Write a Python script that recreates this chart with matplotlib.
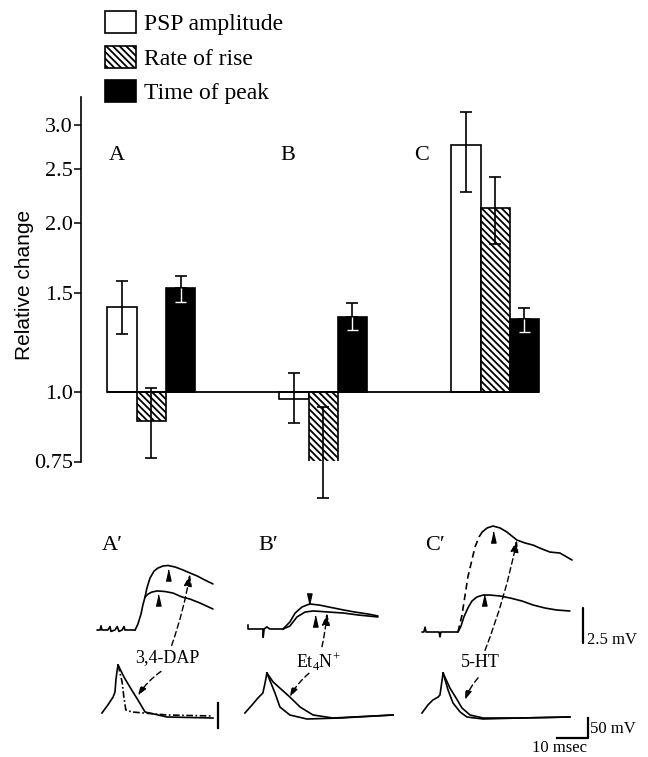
import numpy as np
import matplotlib
matplotlib.use("Agg")
import matplotlib.pyplot as plt

plt.rcParams['font.family'] = ['Liberation Serif', 'DejaVu Serif']
plt.rcParams['mathtext.fontset'] = 'custom'
plt.rcParams['mathtext.rm'] = 'Liberation Serif'
plt.rcParams['hatch.linewidth'] = 1.3

# ---- bar chart data (relative change, log axis) ----
groups = ['A', 'B', 'C']
psp = [1.42, 0.972, 2.76]
psp_lo = [1.27, 0.878, 2.28]
psp_hi = [1.58, 1.078, 3.16]
rise = [0.888, 0.742, 2.13]
rise_lo = [0.76, 0.646, 1.84]
rise_hi = [1.014, 0.94, 2.42]
peak = [1.53, 1.36, 1.35]
peak_lo = [1.45, 1.29, 1.28]
peak_hi = [1.61, 1.44, 1.41]
yticks = [0.75, 1.0, 1.5, 2.0, 2.5, 3.0]
ytick_labels = ['0.75', '1.0', '1.5', '2.0', '2.5', '3.0']

# ---- recordings: time (msec) and voltage (mV) from each panel's start ----
# A' 3,4-DAP
a_base_t = [0, 1.0, 1.3, 1.6, 3.5, 4.2, 4.5, 5.8, 6.5, 7.1, 8.1, 8.7, 9.0, 12.3]
a_base_v = [0, 0, 0.3, 0, 0, 0.25, -0.1, 0, 0.25, -0.1, 0, 0.25, 0, 0]
a_rise_t = [12.3, 13.2, 14.2, 14.8, 15.5]
a_rise_v = [0, 0.43, 1.14, 1.79, 2.36]
a_up_t = [15.5, 16.1, 17.1, 18.4, 19.7, 21.3, 22.9, 25.2, 27.7, 30.0, 32.3, 34.8, 37.4]
a_up_v = [2.36, 3.0, 3.71, 4.21, 4.43, 4.57, 4.61, 4.5, 4.29, 4.07, 3.86, 3.57, 3.29]
a_lo_t = [15.5, 16.5, 17.7, 19.4, 21.9, 24.5, 27.4, 30.0, 33.2, 37.4]
a_lo_v = [2.36, 2.57, 2.71, 2.79, 2.75, 2.64, 2.36, 2.21, 1.93, 1.5]
a_ap_rise_t = [1.6, 3.5, 5.2, 5.8, 6.1, 6.5, 6.8]
a_ap_rise_v = [12.5, 32.5, 52.5, 65, 95, 120, 132.5]
a_ap_fast_t = [6.8, 7.5, 8.1, 8.7, 9.3, 11.3, 22.6, 37.4]
a_ap_fast_v = [132.5, 110, 90, 50, 20, 15, 7.5, 5]
a_ap_slow_t = [6.8, 8.7, 10.6, 13.2, 15.5, 22.6, 37.4]
a_ap_slow_v = [132.5, 102.5, 77.5, 45, 15, 2.5, 0]
a_marks = [(22.9, 3.93), (19.7, 2.14)]

# B' Et4N+
b_base_t = [0, 0, 4.8, 4.9, 5.2, 6.1, 7.0, 11.3]
b_base_v = [0.3, 0, 0, -0.6, 0, 0.15, 0, 0]
b_up_t = [11.3, 13.5, 15.2, 17.4, 19.9, 23.0, 26.1, 30.8, 34.5, 38.7, 41.9]
b_up_v = [0, 0.5, 1.14, 1.57, 1.79, 1.71, 1.57, 1.36, 1.21, 1.07, 0.93]
b_lo_t = [11.3, 13.5, 15.8, 18.4, 21.0, 26.1, 30.8, 35.5, 41.9]
b_lo_v = [0, 0.21, 0.86, 1.21, 1.29, 1.21, 1.14, 1.0, 0.86]
b_ap_rise_t = [-1.0, 1.3, 3.2, 4.8, 5.5, 6.1]
b_ap_rise_v = [12.5, 32.5, 50, 62.5, 87.5, 112.5]
b_ap_fast_t = [6.1, 8.7, 10.3, 13.5, 19.0, 29.7, 46.8]
b_ap_fast_v = [112.5, 62.5, 27.5, 7.5, -2.5, 0, 7.5]
b_ap_slow_t = [6.1, 8.1, 13.5, 16.8, 21.0, 27.4, 46.8]
b_ap_slow_v = [112.5, 90, 52.5, 27.5, 7.5, 0, 7.5]
b_mark_down = (19.7, 2.14)
b_mark_up = (21.6, 0.57)

# C' 5-HT
c_base_t = [0, 0.6, 1.0, 1.3, 5.5, 5.8, 6.1, 11.6]
c_base_v = [0, 0, 0.35, 0, 0, -0.35, 0, 0]
c_rise_t = [11.6, 12.9, 13.9, 14.8, 16.1, 17.1, 18.4, 19.4]
c_rise_v = [0, 1.21, 2.64, 3.93, 5.14, 6.07, 6.79, 7.14]
c_up_t = [19.4, 21.0, 22.9, 25.2, 27.4, 30.6, 33.2, 35.8, 38.7, 41.3, 44.5, 48.4]
c_up_v = [7.14, 7.43, 7.57, 7.43, 7.14, 6.57, 6.36, 6.21, 5.93, 5.71, 5.64, 5.14]
c_lo_t = [11.6, 12.6, 13.5, 14.8, 16.1, 17.7, 19.7, 21.9, 25.2, 28.4, 32.3, 35.8, 39.7, 43.5, 47.7]
c_lo_v = [0, 0.43, 1.07, 1.71, 2.21, 2.5, 2.64, 2.64, 2.57, 2.43, 2.21, 1.93, 1.71, 1.57, 1.5]
c_ap_rise_t = [0, 1.9, 3.5, 5.2, 5.8, 6.3, 6.8]
c_ap_rise_v = [12.5, 32.5, 45, 52.5, 57.5, 85, 112.5]
c_ap_fast_t = [6.8, 8.4, 10.0, 12.3, 14.5, 19.7, 31.6, 47.7]
c_ap_fast_v = [112.5, 70, 37.5, 15, 2.5, -2.5, 0, 2.5]
c_ap_slow_t = [6.8, 9.0, 11.0, 12.9, 15.5, 19.7, 31.6, 47.7]
c_ap_slow_v = [112.5, 75, 50, 25, 7.5, 0, 0, 2.5]
c_marks = [(22.9, 6.79), (20.0, 2.29)]

W, H = 648, 757


def fx(px):
    return px / W


def fy(py):
    return 1 - py / H


fig = plt.figure(figsize=(6.48, 7.57), dpi=100)

# ================= bar chart =================
ax = fig.add_axes([fx(81), fy(461.5), fx(600) - fx(81), fy(97) - fy(461.5)])
ax.set_yscale('log')
ax.set_ylim(0.75, 3.368)
ax.set_xlim(-0.409, 2.61)

x = np.arange(len(groups))
w = 0.17
lw = 1.2
b1 = ax.bar(x - w, np.array(psp) - 1, bottom=1, width=w, color='white',
            edgecolor='black', linewidth=lw, zorder=2)
b2 = ax.bar(x, np.array(rise) - 1, bottom=1, width=w, color='white',
            edgecolor='black', linewidth=lw, hatch='\\' * 5, zorder=2)
b3 = ax.bar(x + w, np.array(peak) - 1, bottom=1, width=w, color='black',
            edgecolor='black', linewidth=lw, zorder=2)


def errbars(xs, v, lo, hi):
    v, lo, hi = map(np.array, (v, lo, hi))
    eb = ax.errorbar(xs, v, yerr=[v - lo, hi - v], fmt='none', ecolor='black',
                     elinewidth=1.2, capsize=4, capthick=1.2, zorder=3)
    for art in eb.lines[1] + eb.lines[2]:
        art.set_clip_on(False)


errbars(x - w, psp, psp_lo, psp_hi)
errbars(x, rise, rise_lo, rise_hi)
# black bars: upper part black, lower part (inside the bar) white
pk = np.array(peak)
ax.errorbar(x + w, pk, yerr=[np.zeros(3), np.array(peak_hi) - pk], fmt='none',
            ecolor='black', elinewidth=1.2, capsize=4, capthick=1.2, zorder=3)
ax.vlines(x + w, peak_lo, pk, color='white', lw=1.0, zorder=3)
ax.hlines(peak_lo, x + w - 0.03, x + w + 0.03, color='white', lw=1.0, zorder=3)

ax.hlines(1.0, x[0] - 1.5 * w, x[-1] + 1.5 * w, color='black', lw=1.3, zorder=4)

ax.set_yticks(yticks)
ax.set_yticklabels(ytick_labels, fontsize=16)
ax.yaxis.set_minor_locator(matplotlib.ticker.NullLocator())
ax.tick_params(axis='y', direction='out', length=5, width=1.1, pad=1)
ax.set_xticks([])
for s in ['top', 'right', 'bottom']:
    ax.spines[s].set_visible(False)
ax.spines['left'].set_linewidth(1.2)

label_x = [-0.203, 0.794, 1.574]
for lx, g in zip(label_x, groups):
    ax.text(lx, 2.65, g, ha='center', va='center', fontsize=16)

fig.text(fx(25), fy(285), 'Relative change', rotation=90, ha='center',
         va='center', fontsize=15, family=['Liberation Sans', 'DejaVu Sans'])

fig.legend([b1, b2, b3], ['PSP amplitude', 'Rate of rise', 'Time of peak'],
           loc='upper left', bbox_to_anchor=(fx(105), fy(11)), frameon=False,
           fontsize=17, handlelength=1.3, handleheight=1.05, handletextpad=0.35,
           labelspacing=0.45, borderpad=0, borderaxespad=0)

# ================= recordings =================
axl = fig.add_axes([0, 0, 1, fy(500)])
axl.set_xlim(0, W / 3.1)
axl.set_ylim(0, (H - 500) / 14)
axl.axis('off')

AP_SCALE = 0.4 / 14
AP_BASE = (H - 718) / 14
panels = {
    'A': dict(t0=97 / 3.1, base=(H - 630) / 14),
    'B': dict(t0=248 / 3.1, base=(H - 629) / 14),
    'C': dict(t0=422 / 3.1, base=(H - 632) / 14),
}
TLW = 1.2


def psp_xy(p, t, v):
    return panels[p]['t0'] + np.array(t), panels[p]['base'] + np.array(v)


def ap_xy(p, t, v):
    return panels[p]['t0'] + np.array(t), AP_BASE + np.array(v) * AP_SCALE


def psp_line(p, t, v, **kw):
    kw.setdefault('lw', TLW)
    axl.plot(*psp_xy(p, t, v), color='black', solid_capstyle='round', **kw)


def ap_line(p, t, v, **kw):
    kw.setdefault('lw', TLW)
    axl.plot(*ap_xy(p, t, v), color='black', **kw)


up_tri = [(-0.45, -1), (0.45, -1), (0, 1)]
down_tri = [(-0.45, 1), (0.45, 1), (0, -1)]


def mark(p, pt, verts):
    xx, yy = psp_xy(p, [pt[0]], [pt[1]])
    axl.plot(xx, yy, marker=verts, ms=8, color='black', ls='none')


arrow_kw = dict(arrowstyle='-|>,head_length=0.55,head_width=0.18', lw=1.0,
                color='black', linestyle=(0, (4, 2.5)), shrinkA=1, shrinkB=0)


def connector(p, label, label_pt, top_tip, low_start, low_tip, rad_top, rad_low):
    lx, ly = psp_xy(p, [label_pt[0]], [label_pt[1]])
    tx, ty = psp_xy(p, [top_tip[0]], [top_tip[1]])
    sx, sy = psp_xy(p, [low_start[0]], [low_start[1]])
    bx, by = psp_xy(p, [low_tip[0]], [low_tip[1]])
    axl.annotate(label, xy=(tx[0], ty[0]), xytext=(lx[0], ly[0]), ha='center',
                 va='center', fontsize=13,
                 arrowprops=dict(connectionstyle=f'arc3,rad={rad_top}', **arrow_kw))
    axl.annotate('', xy=(bx[0], by[0]), xytext=(sx[0], sy[0]),
                 arrowprops=dict(connectionstyle=f'arc3,rad={rad_low}', **arrow_kw))


# A'
psp_line('A', a_base_t, a_base_v)
psp_line('A', a_rise_t, a_rise_v)
psp_line('A', a_up_t, a_up_v)
psp_line('A', a_lo_t, a_lo_v)
ap_line('A', a_ap_rise_t, a_ap_rise_v)
ap_line('A', a_ap_fast_t, a_ap_fast_v, ls=(0, (4, 1.5, 1, 1.5)))
ap_line('A', a_ap_slow_t, a_ap_slow_v)
ap_line('A', [39.0, 39.0], [37.5, -25], lw=1.6)
for pt in a_marks:
    mark('A', pt, up_tri)
connector('A', '3,4-DAP', (22.6, -2.0), (30.0, 4.0), (21.0, -2.9), (13.2, -4.7), 0.05, 0.1)

# B'
psp_line('B', b_base_t, b_base_v)
psp_line('B', b_up_t, b_up_v)
psp_line('B', b_lo_t, b_lo_v)
ap_line('B', b_ap_rise_t, b_ap_rise_v)
ap_line('B', b_ap_fast_t, b_ap_fast_v)
ap_line('B', b_ap_slow_t, b_ap_slow_v)
mark('B', b_mark_down, down_tri)
mark('B', b_mark_up, up_tri)
connector('B', 'Et$_{4}$N$^{+}$', (22.6, -2.36), (25.5, 1.14), (20.0, -3.1), (13.5, -4.86), 0.05, 0.1)

# C'
psp_line('C', c_base_t, c_base_v)
psp_line('C', c_rise_t, c_rise_v, ls=(0, (4, 2.5)))
psp_line('C', c_lo_t, c_lo_v)
psp_line('C', c_up_t, c_up_v)
ap_line('C', c_ap_rise_t, c_ap_rise_v)
ap_line('C', c_ap_fast_t, c_ap_fast_v)
ap_line('C', c_ap_slow_t, c_ap_slow_v)
for pt in c_marks:
    mark('C', pt, up_tri)
connector('C', '5-HT', (18.7, -2.21), (30.6, 6.57), (18.4, -3.2), (13.9, -4.86), 0.05, 0.1)

# scale bars (drawn in C' units)
psp_line('C', [51.9, 51.9], [1.71, -0.79], lw=1.6)
ap_line('C', [43.5, 53.5, 53.5], [-50, -50, 0], lw=1.6)
bx, by = psp_xy('C', [53.2], [-0.55])
axl.text(bx[0], by[0], '2.5 mV', fontsize=12, ha='left', va='center')
bx, by = ap_xy('C', [54.3], [-27])
axl.text(bx[0], by[0], '50 mV', fontsize=12, ha='left', va='center')
bx, by = ap_xy('C', [44.5], [-75])
axl.text(bx[0], by[0], '10 msec', fontsize=12, ha='center', va='center')

# panel letters
for px, name in zip([112, 268, 435], ['A\u2032', 'B\u2032', 'C\u2032']):
    fig.text(fx(px), fy(546), name, ha='center', va='center', fontsize=16)

fig.savefig('out.png', dpi=100)
